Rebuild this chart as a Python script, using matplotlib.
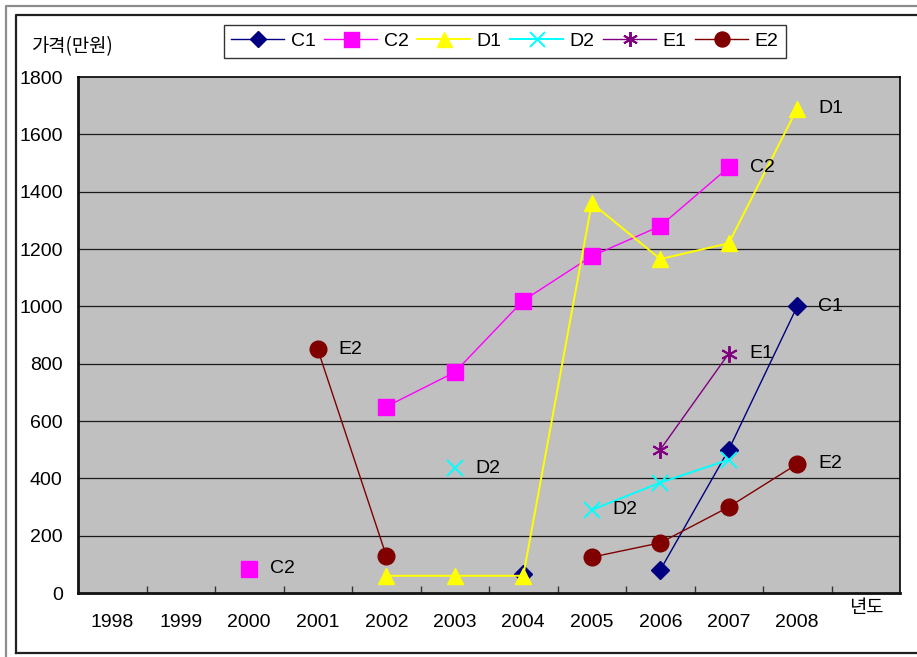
import numpy as np
import matplotlib
matplotlib.use("Agg")
import matplotlib.pyplot as plt
from matplotlib.lines import Line2D

plt.rcParams['font.family'] = ['Liberation Sans', 'Noto Sans CJK KR', 'DejaVu Sans']

nan = np.nan
years = ['1998', '1999', '2000', '2001', '2002', '2003', '2004', '2005', '2006', '2007', '2008']

c1 = [nan, nan, nan, nan, nan, nan, 65, nan, 80, 500, 1000]
c2 = [nan, nan, 85, nan, 650, 770, 1020, 1175, 1280, 1485, nan]
d1 = [nan, nan, nan, nan, 60, 60, 60, 1360, 1165, 1220, 1690]
d2 = [nan, nan, nan, nan, nan, 435, nan, 290, 385, 465, nan]
e1 = [nan, nan, nan, nan, nan, nan, nan, nan, 500, 835, nan]
e2 = [nan, nan, nan, 850, 130, nan, nan, 125, 175, 300, 450]

series_names = ['C1', 'C2', 'D1', 'D2', 'E1', 'E2']
series_values = [c1, c2, d1, d2, e1, e2]
colors = ['#000080', '#FF00FF', '#FFFF00', '#00FFFF', '#800080', '#800000']
markers = ['D', 's', '^', 'x', (6, 2, 0), 'o']
msizes = [9, 12, 12, 12, 12, 12]
lwidths = [1.0, 1.0, 1.4, 1.4, 1.0, 1.0]

# series-name labels placed beside selected points (series, year index)
point_labels = [('C2', 2), ('C2', 9), ('E2', 3), ('E2', 10), ('D2', 5), ('D2', 7),
                ('D1', 10), ('C1', 10), ('E1', 9)]

FS = 14

W, H = 917, 657
fig = plt.figure(figsize=(W / 100, H / 100), dpi=100)
fig.patch.set_facecolor('white')

# outer frames
def px_line(xs, ys, **kw):
    fig.add_artist(Line2D([x / W for x in xs], [1 - y / H for y in ys],
                          transform=fig.transFigure, **kw))

px_line([6, 6, 920], [680, 6, 6], color='#8c8c8c', lw=1.6)
px_line([16, 16, 920], [653, 15, 15], color='#202020', lw=1.6)
px_line([16, 920], [653, 653], color='#202020', lw=1.6)

ax = fig.add_axes([78 / W, 1 - 593 / H, (900 - 78) / W, (593 - 77) / H])
ax.set_facecolor('#C0C0C0')
ax.set_xlim(-0.5, 11.5)
ax.set_ylim(0, 1800)

ax.set_yticks(np.arange(0, 1801, 200))
for yv in np.arange(200, 1800, 200):
    ax.axhline(yv, color='#1a1a1a', lw=0.9, zorder=1)

x = np.arange(len(years))
handles = []
for name, vals, col, mk, ms, lw in zip(series_names, series_values, colors, markers, msizes, lwidths):
    mew = 1.4 if mk in ('x',) or isinstance(mk, tuple) else 1.0
    h, = ax.plot(x, vals, color=col, marker=mk, markersize=ms, lw=lw,
                 markeredgecolor=col, markerfacecolor=col, markeredgewidth=mew,
                 label=name, zorder=3)
    handles.append(h)

lookup = dict(zip(series_names, series_values))
for name, idx in point_labels:
    ax.annotate(name, (x[idx], lookup[name][idx]), xytext=(15, 0),
                textcoords='offset points', ha='left', va='center',
                fontsize=FS, color='black', zorder=4)

ax.set_xticks(np.arange(0.5, 11, 1.0))
ax.set_xticklabels([])
ax.tick_params(axis='x', which='major', direction='in', length=5, width=1, color='#333333')
ax.set_xticks(x, minor=True)
ax.set_xticklabels(years, minor=True, fontsize=FS)
ax.tick_params(axis='x', which='minor', length=0, pad=15)
ax.tick_params(axis='y', length=0, pad=11, labelsize=FS)

for side in ('left', 'bottom'):
    ax.spines[side].set_linewidth(2.0)
    ax.spines[side].set_color('#111111')
for side in ('top', 'right'):
    ax.spines[side].set_linewidth(1.2)
    ax.spines[side].set_color('black')

fig.text(32 / W, 1 - 47 / H, '가격(만원)', fontsize=13.5, ha='left', va='center',
         family=['Noto Sans CJK KR', 'DejaVu Sans'])
fig.text(866 / W, 1 - 608 / H, '년도', fontsize=13.5, ha='center', va='center',
         family=['Noto Sans CJK KR', 'DejaVu Sans'])

leg = fig.legend(handles=handles, loc='center', bbox_to_anchor=(505 / W, 1 - 41.5 / H),
                 ncol=6, frameon=True, fancybox=False, fontsize=FS,
                 handlelength=2.7, handletextpad=0.35, columnspacing=0.45,
                 borderpad=0.4, markerscale=0.9)
leg.get_frame().set_edgecolor('black')
leg.get_frame().set_linewidth(1.0)

fig.savefig('out.png', dpi=100)
